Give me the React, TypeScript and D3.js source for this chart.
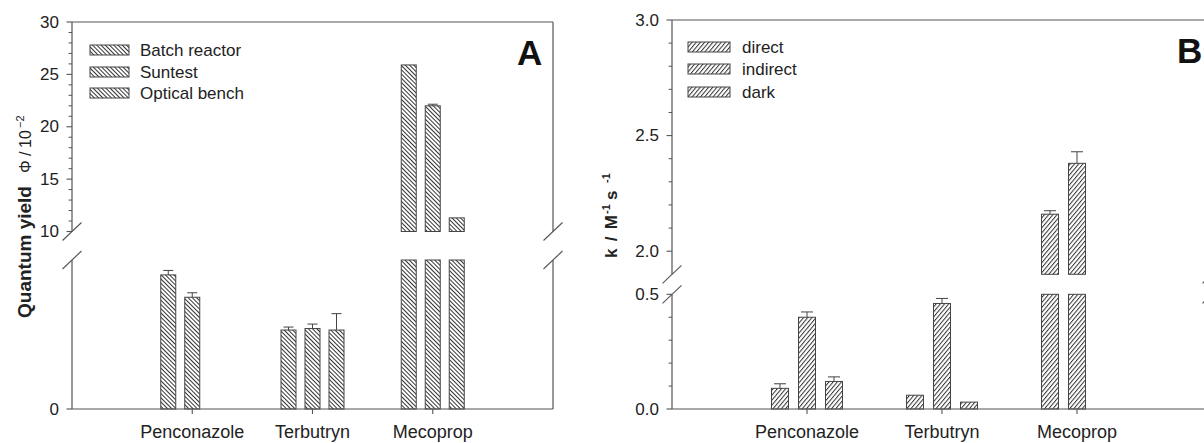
import React from "react";
import * as d3 from "d3";

const categories = ["Penconazole", "Terbutryn", "Mecoprop"];

// panel A - quantum yield (Φ / 10^-2)
const seriesA = ["Batch reactor", "Suntest", "Optical bench"];
const batchReactor = [0.9, 0.53, 25.9];
const batchReactorErr = [0.03, 0.02, 0];
const suntest = [0.75, 0.54, 22.0];
const suntestErr = [0.03, 0.03, 0.15];
const opticalBench = [null, 0.53, 11.3];
const opticalBenchErr = [0, 0.11, 0];
const ticksAUpper = [10, 15, 20, 25, 30];
const ticksALower = [0];

// panel B - rate constants k / M-1 s-1
const seriesB = ["direct", "indirect", "dark"];
const kDirect = [0.09, 0.06, 2.16];
const kDirectErr = [0.02, 0, 0.015];
const kIndirect = [0.4, 0.46, 2.38];
const kIndirectErr = [0.023, 0.022, 0.05];
const kDark = [0.12, 0.03, 0];
const kDarkErr = [0.02, 0, 0];
const ticksBUpper = [2.0, 2.5, 3.0];
const ticksBLower = [0.0, 0.5];

const FONT = "'Liberation Sans', Arial, Helvetica, sans-serif";
const AXIS = "#555";
const INK = "#222";
const BAR = "#444";

type Seg = {
  y: d3.ScaleLinear<number, number>;
  major: number[];
  minor: number[];
  fmt: (n: number) => string;
};

type PanelProps = {
  x0: number;
  x1: number;
  top: number;
  bottom: number;
  segs: Seg[];
  values: (number | null)[][];
  errors: number[][];
  names: string[];
  barW: number;
  step: number;
  capW: number;
  pattern: string;
  legend: { x: number; w: number; ys: number[]; textX: number };
  tag: { text: string; x: number; y: number };
};

const Panel = (p: PanelProps) => {
  const x = d3.scaleLinear().domain([0, 4]).range([p.x0, p.x1]);
  const slash = (cx: number, cy: number, key: string) => (
    <line key={key} x1={cx - 9.5} y1={cy + 9} x2={cx + 9.5} y2={cy - 9} stroke={AXIS} strokeWidth={1.1} />
  );

  return (
    <g>
      {/* bars, one piece per axis segment */}
      {p.segs.map((seg, si) => {
        const [lo, hi] = seg.y.domain();
        return p.values.map((vals, j) =>
          vals.map((v, i) => {
            if (v == null || v < lo) return null;
            const cx = x(i + 1) + (j - 1) * p.step;
            const t = Math.min(v, hi);
            const err = p.errors[j][i];
            const showErr = err > 0 && v <= hi;
            return (
              <g key={`b${si}-${j}-${i}`}>
                <rect
                  x={cx - p.barW / 2}
                  y={seg.y(t)}
                  width={p.barW}
                  height={seg.y(lo) - seg.y(t)}
                  fill={`url(#${p.pattern})`}
                  stroke={BAR}
                  strokeWidth={1}
                />
                {showErr && (
                  <g stroke={BAR} strokeWidth={1}>
                    <line x1={cx} x2={cx} y1={seg.y(v)} y2={seg.y(v + err)} />
                    <line x1={cx - p.capW / 2} x2={cx + p.capW / 2} y1={seg.y(v + err)} y2={seg.y(v + err)} />
                  </g>
                )}
              </g>
            );
          })
        );
      })}

      {/* frame and left axis */}
      <line x1={p.x0} x2={p.x1} y1={p.top} y2={p.top} stroke={AXIS} strokeWidth={1.2} />
      <line x1={p.x0} x2={p.x1} y1={p.bottom} y2={p.bottom} stroke={AXIS} strokeWidth={1.2} />
      {p.segs.map((seg, si) => {
        const [r0, r1] = seg.y.range();
        return (
          <g key={`ax${si}`}>
            <line x1={p.x0} x2={p.x0} y1={r0} y2={r1} stroke={AXIS} strokeWidth={1.2} />
            <line x1={p.x1} x2={p.x1} y1={r0} y2={r1} stroke={AXIS} strokeWidth={1.2} />
            {seg.minor.map((t) => (
              <line key={`mi${t}`} x1={p.x0 - 3.5} x2={p.x0} y1={seg.y(t)} y2={seg.y(t)} stroke={AXIS} strokeWidth={1} />
            ))}
            {seg.major.map((t) => (
              <g key={`ma${t}`}>
                <line x1={p.x0 - 5.5} x2={p.x0} y1={seg.y(t)} y2={seg.y(t)} stroke={AXIS} strokeWidth={1.1} />
                <text
                  x={p.x0 - 13}
                  y={seg.y(t)}
                  textAnchor="end"
                  dominantBaseline="central"
                  fontSize={17}
                  fill={INK}
                >
                  {seg.fmt(t)}
                </text>
              </g>
            ))}
          </g>
        );
      })}
      {/* axis break marks */}
      {p.segs.slice(0, -1).map((seg, si) => {
        const yEnd = seg.y.range()[1];
        const yStart = p.segs[si + 1].y.range()[0];
        return (
          <g key={`br${si}`}>
            {slash(p.x0, yEnd, "a")}
            {slash(p.x0, yStart, "b")}
            {slash(p.x1, yEnd, "c")}
            {slash(p.x1, yStart, "d")}
          </g>
        );
      })}

      {/* category ticks and labels */}
      {categories.map((c, i) => (
        <g key={c}>
          <line x1={x(i + 1)} x2={x(i + 1)} y1={p.bottom} y2={p.bottom + 5} stroke={AXIS} strokeWidth={1.1} />
          <text x={x(i + 1)} y={438} textAnchor="middle" fontSize={18} fill={INK}>
            {c}
          </text>
        </g>
      ))}

      {/* legend */}
      {p.names.map((n, j) => (
        <g key={n}>
          <rect
            x={p.legend.x}
            y={p.legend.ys[j] - 5}
            width={p.legend.w}
            height={10}
            fill={`url(#${p.pattern})`}
            stroke={BAR}
            strokeWidth={1}
          />
          <text x={p.legend.textX} y={p.legend.ys[j]} dominantBaseline="central" fontSize={17} fill={INK}>
            {n}
          </text>
        </g>
      ))}

      <text x={p.tag.x} y={p.tag.y} fontSize={35} fontWeight="bold" fill="#111">
        {p.tag.text}
      </text>
    </g>
  );
};

export default function App() {
  const minorA = d3.range(11, 30).filter((t) => t % 5 !== 0);
  const minorBUpper = d3.range(21, 30).filter((t) => t % 5 !== 0).map((t) => t / 10);
  const minorBLower = [1, 2, 3, 4].map((t) => t / 10);

  const segsA: Seg[] = [
    { y: d3.scaleLinear().domain([0, 1]).range([409, 260]), major: ticksALower, minor: [], fmt: d3.format("d") },
    { y: d3.scaleLinear().domain([10, 30]).range([231.5, 22]), major: ticksAUpper, minor: minorA, fmt: d3.format("d") },
  ];
  const segsB: Seg[] = [
    { y: d3.scaleLinear().domain([0, 0.5]).range([409, 294.3]), major: ticksBLower, minor: minorBLower, fmt: d3.format(".1f") },
    { y: d3.scaleLinear().domain([1.9, 3.0]).range([274.3, 20]), major: ticksBUpper, minor: minorBUpper, fmt: d3.format(".1f") },
  ];

  return (
    <svg
      width={1204}
      height={443}
      style={{ position: "absolute", left: 0, top: 0, background: "#fff" }}
      fontFamily={FONT}
    >
      <defs>
        <pattern id="hatchA" patternUnits="userSpaceOnUse" width={3} height={3} patternTransform="rotate(-45)">
          <rect width={3} height={3} fill="#fff" />
          <line x1={0.5} y1={0} x2={0.5} y2={3} stroke="#333" strokeWidth={1} />
        </pattern>
        <pattern id="hatchB" patternUnits="userSpaceOnUse" width={3.2} height={3.2} patternTransform="rotate(40)">
          <rect width={3.2} height={3.2} fill="#fff" />
          <line x1={0.5} y1={0} x2={0.5} y2={3.2} stroke="#333" strokeWidth={1} />
        </pattern>
      </defs>

      <Panel
        x0={72}
        x1={553}
        top={22}
        bottom={409}
        segs={segsA}
        values={[batchReactor, suntest, opticalBench]}
        errors={[batchReactorErr, suntestErr, opticalBenchErr]}
        names={seriesA}
        barW={15}
        step={24}
        capW={10}
        pattern="hatchA"
        legend={{ x: 90, w: 39, ys: [50, 72, 93], textX: 140 }}
        tag={{ text: "A", x: 517, y: 65 }}
      />
      <Panel
        x0={672}
        x1={1212}
        top={20}
        bottom={409}
        segs={segsB}
        values={[kDirect, kIndirect, kDark]}
        errors={[kDirectErr, kIndirectErr, kDarkErr]}
        names={seriesB}
        barW={17}
        step={27}
        capW={12}
        pattern="hatchB"
        legend={{ x: 688, w: 42, ys: [47, 69, 92], textX: 742 }}
        tag={{ text: "B", x: 1177, y: 63 }}
      />

      {/* y titles */}
      <text transform="translate(31,318) rotate(-90)" fill={INK}>
        <tspan x={0} fontSize={19} fontWeight="bold">
          Quantum yield
        </tspan>
        <tspan x={145} fontSize={16}>
          Φ
        </tspan>
        <tspan x={162} fontSize={16}>
          /
        </tspan>
        <tspan x={170} fontSize={16}>
          10
        </tspan>
        <tspan x={190} dy={-7} fontSize={11}>
          −2
        </tspan>
      </text>
      <text transform="translate(617,258) rotate(-90)" fill={INK} fontWeight="bold">
        <tspan x={0} fontSize={17} textLength={43}>
          k / M
        </tspan>
        <tspan x={44} dy={-7} fontSize={11}>
          -1
        </tspan>
        <tspan x={58} dy={7} fontSize={17}>
          s
        </tspan>
        <tspan x={75} dy={-7} fontSize={11}>
          -1
        </tspan>
      </text>
    </svg>
  );
}
